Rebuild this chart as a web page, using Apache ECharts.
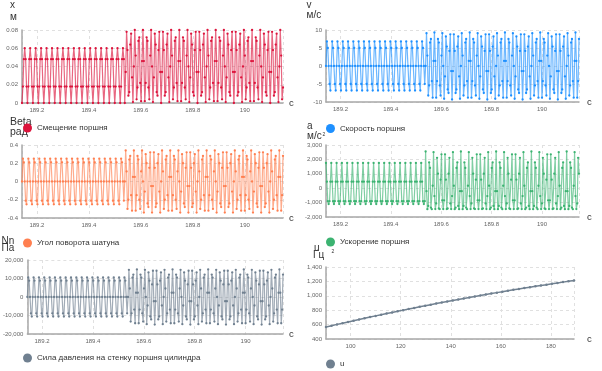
<!DOCTYPE html>
<html>
<head>
<meta charset="utf-8">
<script src="https://cdn.jsdelivr.net/npm/echarts@6.0.0/dist/echarts.min.js"></script>
<style>
  html, body { margin: 0; padding: 0; background: #fff; }
  #chart { width: 602px; height: 371px; }
</style>
</head>
<body>
<div id="chart"></div>
<script>
// время, с
const time = [
  189.1425,189.146,189.1495,189.153,189.1565,189.16,189.1635,189.167,189.1705,189.174,189.1775,189.181,189.1845,189.188,189.1915,189.195,189.1985,189.202,189.2055,189.209,
  189.2125,189.216,189.2195,189.223,189.2265,189.23,189.2335,189.237,189.2405,189.244,189.2475,189.251,189.2545,189.258,189.2615,189.265,189.2685,189.272,189.2755,189.279,
  189.2825,189.286,189.2895,189.293,189.2965,189.3,189.3035,189.307,189.3105,189.314,189.3175,189.321,189.3245,189.328,189.3315,189.335,189.3385,189.342,189.3455,189.349,
  189.3525,189.356,189.3595,189.363,189.3665,189.37,189.3735,189.377,189.3805,189.384,189.3875,189.391,189.3945,189.398,189.4015,189.405,189.4085,189.412,189.4155,189.419,
  189.4225,189.426,189.4295,189.433,189.4365,189.44,189.4435,189.447,189.4505,189.454,189.4575,189.461,189.4645,189.468,189.4715,189.475,189.4785,189.482,189.4855,189.489,
  189.4925,189.496,189.4995,189.503,189.5065,189.51,189.5135,189.517,189.5205,189.524,189.5275,189.531,189.5345,189.538,189.5415,189.545,189.5485,189.552,189.5555,189.559,
  189.5625,189.566,189.5695,189.573,189.5765,189.58,189.5835,189.587,189.5905,189.594,189.5975,189.601,189.6045,189.608,189.6115,189.615,189.6185,189.622,189.6255,189.629,
  189.6325,189.636,189.6395,189.643,189.6465,189.65,189.6535,189.657,189.6605,189.664,189.6675,189.671,189.6745,189.678,189.6815,189.685,189.6885,189.692,189.6955,189.699,
  189.7025,189.706,189.7095,189.713,189.7165,189.72,189.7235,189.727,189.7305,189.734,189.7375,189.741,189.7445,189.748,189.7515,189.755,189.7585,189.762,189.7655,189.769,
  189.7725,189.776,189.7795,189.783,189.7865,189.79,189.7935,189.797,189.8005,189.804,189.8075,189.811,189.8145,189.818,189.8215,189.825,189.8285,189.832,189.8355,189.839,
  189.8425,189.846,189.8495,189.853,189.8565,189.86,189.8635,189.867,189.8705,189.874,189.8775,189.881,189.8845,189.888,189.8915,189.895,189.8985,189.902,189.9055,189.909,
  189.9125,189.916,189.9195,189.923,189.9265,189.93,189.9335,189.937,189.9405,189.944,189.9475,189.951,189.9545,189.958,189.9615,189.965,189.9685,189.972,189.9755,189.979,
  189.9825,189.986,189.9895,189.993,189.9965,190,190.0035,190.007,190.0105,190.014,190.0175,190.021,190.0245,190.028,190.0315,190.035,190.0385,190.042,190.0455,190.049,
  190.0525,190.056,190.0595,190.063,190.0665,190.07,190.0735,190.077,190.0805,190.084,190.0875,190.091,190.0945,190.098,190.1015,190.105,190.1085,190.112,190.1155,190.119,
  190.1225,190.126,190.1295,190.133,190.1365,190.14,190.1435,190.147
];

// x, м
const pistonShift = [
  0,0.018,0.048,0.06,0.048,0.018,0,0.018,0.048,0.06,0.048,0.018,0,0.018,0.048,0.06,0.048,0.018,0,0.018,0.048,0.06,0.048,0.018,0,0.018,0.048,0.06,0.048,0.018,0,0.018,0.048,0.06,0.048,0.018,
  0,0.018,0.048,0.06,0.048,0.018,0,0.018,0.048,0.06,0.048,0.018,0,0.018,0.048,0.06,0.048,0.018,0,0.018,0.048,0.06,0.048,0.018,0,0.018,0.048,0.06,0.048,0.018,0,0.018,0.048,0.06,0.048,0.018,
  0,0.018,0.048,0.06,0.048,0.018,0,0.018,0.048,0.06,0.048,0.018,0,0.018,0.048,0.06,0.048,0.018,0,0.018,0.048,0.06,0.048,0.018,0,0.018,0.048,0.06,0.048,0.018,0,0.018,0.048,0.06,0.048,0.018,
  0,0.018,0.048,0.06,0.048,
  0,0.034,0.078,0.058,0.008,0.012,0.064,0.076,0.028,0.001,0.04,0.08,0.052,0.004,0.017,0.068,0.072,0.022,0.002,0.046,0.08,0.046,0.002,0.022,0.072,0.068,0.017,0.004,0.052,0.08,0.04,0.001,0.028,0.076,0.064,0.012,0.008,0.058,0.078,0.034,
  0,0.034,0.078,0.058,0.008,0.012,0.064,0.076,0.028,0.001,0.04,0.08,0.052,0.004,0.017,0.068,0.072,0.022,0.002,0.046,0.08,0.046,0.002,0.022,0.072,0.068,0.017,0.004,0.052,0.08,0.04,0.001,0.028,0.076,0.064,0.012,0.008,0.058,0.078,0.034,
  0,0.034,0.078,0.058,0.008,0.012,0.064,0.076,0.028,0.001,0.04,0.08,0.052,0.004,0.017,0.068,0.072,0.022,0.002,0.046,0.08,0.046,0.002,0.022,0.072,0.068,0.017,0.004,0.052,0.08,0.04,0.001,0.028,0.076,0.064,0.012,0.008,0.058,0.078,0.034,
  0,0.034,0.078,0.058,0.008,0.012,0.064,0.076,0.028,0.001,0.04,0.08,0.052,0.004,0.017,0.068,0.072,0.022,0.002,0.046,0.08,0.046,0.002,0.022,0.072,0.068,0.017,0.004,0.052,0.08,0.04,0.001,0.028,0.076,0.064,0.012,0.008,0.058,0.078,0.034,
  0,0.034,0.078,0.058,0.008,0.012,0.064,0.076,0.028,0.001,0.04,0.08,0.052,0.004,0.017
];

// v, м/с
const pistonSpeed = [
  0,6.8,5,0,-5,-6.8,0,6.8,5,0,-5,-6.8,0,6.8,5,0,-5,-6.8,0,6.8,5,0,-5,-6.8,0,6.8,5,0,-5,-6.8,0,6.8,5,0,-5,-6.8,
  0,6.8,5,0,-5,-6.8,0,6.8,5,0,-5,-6.8,0,6.8,5,0,-5,-6.8,0,6.8,5,0,-5,-6.8,0,6.8,5,0,-5,-6.8,0,6.8,5,0,-5,-6.8,
  0,6.8,5,0,-5,-6.8,0,6.8,5,0,-5,-6.8,0,6.8,5,0,-5,-6.8,0,6.8,5,0,-5,-6.8,0,6.8,5,0,-5,-6.8,0,6.8,5,0,-5,-6.8,
  0,6.8,5,0,-5,
  0,9.1,2.9,-8.2,-5.4,6.5,7.5,-4.2,-8.8,1.4,9.3,1.4,-8.8,-4.2,7.5,6.5,-5.4,-8.2,2.9,9.1,0,-9.1,-2.9,8.2,5.4,-6.5,-7.5,4.2,8.8,-1.4,-9.3,-1.4,8.8,4.2,-7.5,-6.5,5.4,8.2,-2.9,-9.1,
  0,9.1,2.9,-8.2,-5.4,6.5,7.5,-4.2,-8.8,1.4,9.3,1.4,-8.8,-4.2,7.5,6.5,-5.4,-8.2,2.9,9.1,0,-9.1,-2.9,8.2,5.4,-6.5,-7.5,4.2,8.8,-1.4,-9.3,-1.4,8.8,4.2,-7.5,-6.5,5.4,8.2,-2.9,-9.1,
  0,9.1,2.9,-8.2,-5.4,6.5,7.5,-4.2,-8.8,1.4,9.3,1.4,-8.8,-4.2,7.5,6.5,-5.4,-8.2,2.9,9.1,0,-9.1,-2.9,8.2,5.4,-6.5,-7.5,4.2,8.8,-1.4,-9.3,-1.4,8.8,4.2,-7.5,-6.5,5.4,8.2,-2.9,-9.1,
  0,9.1,2.9,-8.2,-5.4,6.5,7.5,-4.2,-8.8,1.4,9.3,1.4,-8.8,-4.2,7.5,6.5,-5.4,-8.2,2.9,9.1,0,-9.1,-2.9,8.2,5.4,-6.5,-7.5,4.2,8.8,-1.4,-9.3,-1.4,8.8,4.2,-7.5,-6.5,5.4,8.2,-2.9,-9.1,
  0,9.1,2.9,-8.2,-5.4,6.5,7.5,-4.2,-8.8,1.4,9.3,1.4,-8.8,-4.2,7.5
];

// Beta, рад
const rodAngle = [
  0,0.25,0.21,0,-0.21,-0.25,0,0.25,0.21,0,-0.21,-0.25,0,0.25,0.21,0,-0.21,-0.25,0,0.25,0.21,0,-0.21,-0.25,0,0.25,0.21,0,-0.21,-0.25,0,0.25,0.21,0,-0.21,-0.25,
  0,0.25,0.21,0,-0.21,-0.25,0,0.25,0.21,0,-0.21,-0.25,0,0.25,0.21,0,-0.21,-0.25,0,0.25,0.21,0,-0.21,-0.25,0,0.25,0.21,0,-0.21,-0.25,0,0.25,0.21,0,-0.21,-0.25,
  0,0.25,0.21,0,-0.21,-0.25,0,0.25,0.21,0,-0.21,-0.25,0,0.25,0.21,0,-0.21,-0.25,0,0.25,0.21,0,-0.21,-0.25,0,0.25,0.21,0,-0.21,-0.25,0,0.25,0.21,0,-0.21,-0.25,
  0,0.25,0.21,0,-0.21,
  0,0.34,0.11,-0.3,-0.2,0.24,0.28,-0.15,-0.32,0.05,0.34,0.05,-0.32,-0.15,0.28,0.24,-0.2,-0.3,0.11,0.34,0,-0.34,-0.11,0.3,0.2,-0.24,-0.28,0.15,0.32,-0.05,-0.34,-0.05,0.32,0.15,-0.28,-0.24,0.2,0.3,-0.11,-0.34,
  0,0.34,0.11,-0.3,-0.2,0.24,0.28,-0.15,-0.32,0.05,0.34,0.05,-0.32,-0.15,0.28,0.24,-0.2,-0.3,0.11,0.34,0,-0.34,-0.11,0.3,0.2,-0.24,-0.28,0.15,0.32,-0.05,-0.34,-0.05,0.32,0.15,-0.28,-0.24,0.2,0.3,-0.11,-0.34,
  0,0.34,0.11,-0.3,-0.2,0.24,0.28,-0.15,-0.32,0.05,0.34,0.05,-0.32,-0.15,0.28,0.24,-0.2,-0.3,0.11,0.34,0,-0.34,-0.11,0.3,0.2,-0.24,-0.28,0.15,0.32,-0.05,-0.34,-0.05,0.32,0.15,-0.28,-0.24,0.2,0.3,-0.11,-0.34,
  0,0.34,0.11,-0.3,-0.2,0.24,0.28,-0.15,-0.32,0.05,0.34,0.05,-0.32,-0.15,0.28,0.24,-0.2,-0.3,0.11,0.34,0,-0.34,-0.11,0.3,0.2,-0.24,-0.28,0.15,0.32,-0.05,-0.34,-0.05,0.32,0.15,-0.28,-0.24,0.2,0.3,-0.11,-0.34,
  0,0.34,0.11,-0.3,-0.2,0.24,0.28,-0.15,-0.32,0.05,0.34,0.05,-0.32,-0.15,0.28
];

// a, м/с²
const pistonAccel = [
  1750,450,-900,-1100,-900,450,1750,450,-900,-1100,-900,450,1750,450,-900,-1100,-900,450,1750,450,-900,-1100,-900,450,1750,450,-900,-1100,-900,450,1750,450,-900,-1100,-900,450,
  1750,450,-900,-1100,-900,450,1750,450,-900,-1100,-900,450,1750,450,-900,-1100,-900,450,1750,450,-900,-1100,-900,450,1750,450,-900,-1100,-900,450,1750,450,-900,-1100,-900,450,
  1750,450,-900,-1100,-900,450,1750,450,-900,-1100,-900,450,1750,450,-900,-1100,-900,450,1750,450,-900,-1100,-900,450,1750,450,-900,-1100,-900,450,1750,450,-900,-1100,-900,450,
  1750,450,-900,-1100,-900,
  2550,-210,-1460,-1230,1790,1410,-1350,-1460,170,2500,-550,-1450,-1060,2110,1010,-1410,-1450,590,2350,-840,-1450,-840,2350,590,-1450,-1410,1010,2110,-1060,-1450,-550,2500,170,-1460,-1350,1410,1790,-1230,-1460,-210,
  2550,-210,-1460,-1230,1790,1410,-1350,-1460,170,2500,-550,-1450,-1060,2110,1010,-1410,-1450,590,2350,-840,-1450,-840,2350,590,-1450,-1410,1010,2110,-1060,-1450,-550,2500,170,-1460,-1350,1410,1790,-1230,-1460,-210,
  2550,-210,-1460,-1230,1790,1410,-1350,-1460,170,2500,-550,-1450,-1060,2110,1010,-1410,-1450,590,2350,-840,-1450,-840,2350,590,-1450,-1410,1010,2110,-1060,-1450,-550,2500,170,-1460,-1350,1410,1790,-1230,-1460,-210,
  2550,-210,-1460,-1230,1790,1410,-1350,-1460,170,2500,-550,-1450,-1060,2110,1010,-1410,-1450,590,2350,-840,-1450,-840,2350,590,-1450,-1410,1010,2110,-1060,-1450,-550,2500,170,-1460,-1350,1410,1790,-1230,-1460,-210,
  2550,-210,-1460,-1230,1790,1410,-1350,-1460,170,2500,-550,-1450,-1060,2110,1010
];

// Nn, Па
const wallForce = [
  0,10600,8800,0,-8800,-10600,0,10600,8800,0,-8800,-10600,0,10600,8800,0,-8800,-10600,0,10600,8800,0,-8800,-10600,0,10600,8800,0,-8800,-10600,0,10600,8800,0,-8800,-10600,
  0,10600,8800,0,-8800,-10600,0,10600,8800,0,-8800,-10600,0,10600,8800,0,-8800,-10600,0,10600,8800,0,-8800,-10600,0,10600,8800,0,-8800,-10600,0,10600,8800,0,-8800,-10600,
  0,10600,8800,0,-8800,-10600,0,10600,8800,0,-8800,-10600,0,10600,8800,0,-8800,-10600,0,10600,8800,0,-8800,-10600,0,10600,8800,0,-8800,-10600,0,10600,8800,0,-8800,-10600,
  0,10600,8800,0,-8800,
  0,14700,4600,-13300,-8800,10500,12100,-6800,-14200,2300,14900,2300,-14200,-6800,12100,10500,-8800,-13300,4600,14700,0,-14700,-4600,13300,8800,-10500,-12100,6800,14200,-2300,-14900,-2300,14200,6800,-12100,-10500,8800,13300,-4600,-14700,
  0,14700,4600,-13300,-8800,10500,12100,-6800,-14200,2300,14900,2300,-14200,-6800,12100,10500,-8800,-13300,4600,14700,0,-14700,-4600,13300,8800,-10500,-12100,6800,14200,-2300,-14900,-2300,14200,6800,-12100,-10500,8800,13300,-4600,-14700,
  0,14700,4600,-13300,-8800,10500,12100,-6800,-14200,2300,14900,2300,-14200,-6800,12100,10500,-8800,-13300,4600,14700,0,-14700,-4600,13300,8800,-10500,-12100,6800,14200,-2300,-14900,-2300,14200,6800,-12100,-10500,8800,13300,-4600,-14700,
  0,14700,4600,-13300,-8800,10500,12100,-6800,-14200,2300,14900,2300,-14200,-6800,12100,10500,-8800,-13300,4600,14700,0,-14700,-4600,13300,8800,-10500,-12100,6800,14200,-2300,-14900,-2300,14200,6800,-12100,-10500,8800,13300,-4600,-14700,
  0,14700,4600,-13300,-8800,10500,12100,-6800,-14200,2300,14900,2300,-14200,-6800,12100
];

// u, Гц
const uTime = [90.2,92.4,94.6,96.8,99,101.2,103.4,105.6,107.8,110,112.2,114.4,116.6,118.8,121,123.2,125.4,127.6,129.8,132,134.2,136.4,138.6,140.8,143,145.2,147.4,149.6,151.8,154,156.2,158.4,160.6,162.8,165,167.2,169.4,171.6,173.8,176,178.2,180.4,182.6,184.8,187,189.2];
const uValues = [568,585,603,620,637,654,671,688,705,721,737,753,769,785,801,816,832,847,862,877,892,906,921,935,949,963,977,991,1004,1018,1031,1044,1057,1070,1083,1095,1108,1120,1132,1144,1155,1167,1178,1190,1201,1212];

const seriesNames = ['Смещение поршня', 'Скорость поршня', 'Угол поворота шатуна', 'Ускорение поршня', 'Сила давления на стенку поршня цилиндра', 'u'];
const seriesColors = ['#dc143c', '#1e90ff', '#ff7f50', '#3cb371', '#708090', '#708090'];
const yMin = [0, -10, -0.4, -2000, -20000, 400];
const yMax = [0.08, 10, 0.4, 3000, 20000, 1400];
const yStep = [0.02, 5, 0.2, 1000, 10000, 200];

const FONT = '"Liberation Sans", Arial, sans-serif';

const grids = [
  { left: 22, top: 30, width: 261, height: 73 },
  { left: 326, top: 30, width: 253, height: 72 },
  { left: 22, top: 145, width: 261, height: 73 },
  { left: 326, top: 145, width: 253, height: 72 },
  { left: 22, top: 260, width: 261, height: 74 },
  { left: 326, top: 267, width: 248, height: 72 }
];

// подпись "с" справа под осью
const xNameGap = [6, 8, 6, 8, 6, 13];
const xNameDrop = [26, 28, 26, 28, 16, 27];

const legendPos = [
  { left: 23, top: 123.5 },
  { left: 326, top: 124 },
  { left: 23, top: 238.5 },
  { left: 326, top: 237.5 },
  { left: 23, top: 353.5 },
  { left: 326, top: 359.5 }
];

const pairs = (xs, ys) => xs.map((x, i) => [x, ys[i]]);

const splitStyle = { show: true, lineStyle: { color: '#e0e0e0', type: [3, 3], width: 1 } };

const getOption = () => {
  const xAxis = grids.map((g, i) => ({
    type: 'value',
    gridIndex: i,
    min: 'dataMin',
    max: 'dataMax',
    name: 'с',
    nameLocation: 'end',
    nameGap: xNameGap[i],
    nameTextStyle: { fontSize: 9.5, color: '#333', fontFamily: FONT, padding: [xNameDrop[i], 0, 0, 0] },
    axisLine: { show: true, onZero: false, lineStyle: { color: '#a8a8a8', width: 1.5 } },
    axisTick: { show: false },
    axisLabel: { fontSize: 6, color: '#666', fontFamily: FONT, margin: 4, showMinLabel: false, showMaxLabel: false },
    splitLine: splitStyle
  }));

  const yAxis = grids.map((g, i) => ({
    type: 'value',
    gridIndex: i,
    min: yMin[i],
    max: yMax[i],
    interval: yStep[i],
    axisLine: { show: true, lineStyle: { color: '#a8a8a8', width: 1.5 } },
    axisTick: { show: false },
    axisLabel: { fontSize: 6, color: '#666', fontFamily: FONT, margin: 4 },
    splitLine: splitStyle
  }));

  const values = [pistonShift, pistonSpeed, rodAngle, pistonAccel, wallForce];
  const series = values.map((v, i) => ({
    name: seriesNames[i],
    type: 'line',
    xAxisIndex: i,
    yAxisIndex: i,
    data: pairs(time, v),
    symbol: 'circle',
    symbolSize: 2.3,
    color: seriesColors[i],
    lineStyle: { width: 1.2, opacity: 0.65 },
    emphasis: { disabled: true }
  }));
  series.push({
    name: seriesNames[5],
    type: 'line',
    xAxisIndex: 5,
    yAxisIndex: 5,
    data: pairs(uTime, uValues),
    symbol: 'circle',
    symbolSize: 2.5,
    color: seriesColors[5],
    lineStyle: { width: 1.5 },
    emphasis: { disabled: true }
  });

  const legend = seriesNames.map((name, i) => ({
    data: [name],
    left: legendPos[i].left,
    top: legendPos[i].top,
    padding: 0,
    icon: 'circle',
    itemWidth: 9,
    itemHeight: 9,
    selectedMode: false,
    textStyle: { fontSize: 8, color: '#333', fontFamily: FONT }
  }));

  // подписи осей Y (величина и единица)
  const label = (x, y, text, size) => ({
    type: 'text', x: x, y: y, silent: true,
    style: { text: text, fontSize: size || 10, fontFamily: FONT, fill: '#333', verticalAlign: 'middle', align: 'left' }
  });

  return {
    animation: false,
    grid: grids,
    xAxis: xAxis,
    yAxis: yAxis,
    legend: legend,
    series: series,
    graphic: [
      label(10, 5.5, 'x'), label(10, 17.5, 'м'),
      label(10, 122.5, 'Beta', 10.5), label(10, 132, 'рад', 10.5),
      label(1.5, 241.5, 'Nn'), label(1.5, 248.5, 'Па'),
      label(306.5, 5.5, 'v'), label(306.5, 15, 'м/с'),
      label(307, 126.5, 'a'), label(307, 136.5, 'м/с'), label(322.5, 135, '2', 5),
      label(314, 248.5, 'u'), label(313, 255, 'Гц'),
      label(331.5, 251.5, '2', 5)
    ]
  };
};

const chart = echarts.init(document.getElementById('chart'));
chart.setOption(getOption());
</script>
</body>
</html>
